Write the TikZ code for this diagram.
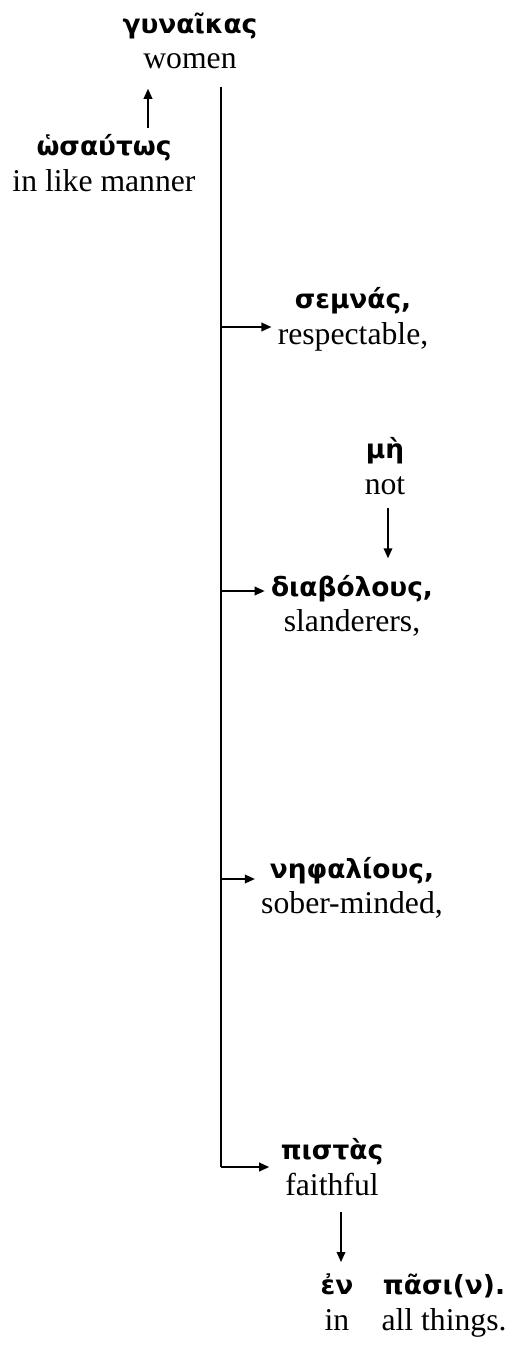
\documentclass[tikz,border=0pt]{standalone}
\usepackage{fontspec}
\setmainfont{Liberation Serif}
\newfontfamily\grkfont[Script=Greek]{DejaVu Sans}
\newcommand{\gk}[1]{{\grkfont\bfseries\fontsize{10pt}{12pt}\selectfont #1}}
\usetikzlibrary{arrows.meta}

\begin{document}
\begin{tikzpicture}[x=0.3787pt, y=-0.3787pt,
    word/.style={align=center, inner sep=2pt, font=\fontsize{12pt}{13.5pt}\selectfont},
    arr/.style={-{Triangle[length=3.8pt,width=3.2pt]}},
    line width=0.75pt
    ]
    \useasboundingbox (0,0) rectangle (519,1347);
    \node[word] (gunaikas) at (190,41) {\gk{γυναῖκας}\\women};
    \node[word] (hosautos) at (104,163) {\gk{ὡσαύτως}\\in like manner};
    \node[word] (semnas) at (353,319) {\gk{σεμνάς,}\\respectable,};
    \node[word] (me) at (385,466) {\gk{μὴ}\\not};
    \node[word] (diabolous) at (352,606) {\gk{διαβόλους,}\\slanderers,};
    \node[word] (nephalious) at (352,888) {\gk{νηφαλίους,}\\sober-minded,};
    \node[word] (pistas) at (332,1167) {\gk{πιστὰς}\\faithful};
    \node[word, anchor=base] (en) at (337,1330) {\gk{ἐν}\\in};
    \node[word, anchor=base] (pasi) at (444,1330) {\gk{πᾶσι(ν).}\\all things.};
    % trunk
    \coordinate (top) at (221,87);
    \coordinate (j1) at (221,327);
    \coordinate (j2) at (221,591);
    \coordinate (j3) at (221,879);
    \coordinate (j4) at (221,1167);
    \draw (top) -- (j4);
    \draw[arr] (j1) -- (j1 -| semnas.west);
    \draw[arr] (j2) -- (j2 -| diabolous.west);
    \draw[arr] (j3) -- (j3 -| nephalious.west);
    \draw[arr] (j4) -- ([xshift=-2pt]j4 -| pistas.west);
    % side words
    \draw[arr, shorten >=5pt] (hosautos.north -| 148,0) -- (gunaikas.south -| 148,0);
    \draw[arr, shorten <=2.6pt, shorten >=4pt] (me.south -| 388,0) -- (diabolous.north -| 388,0);
    \draw[arr, shorten <=4pt, shorten >=2pt] (pistas.south -| 341,0) -- (en.north -| 341,0);
\end{tikzpicture}
\end{document}
